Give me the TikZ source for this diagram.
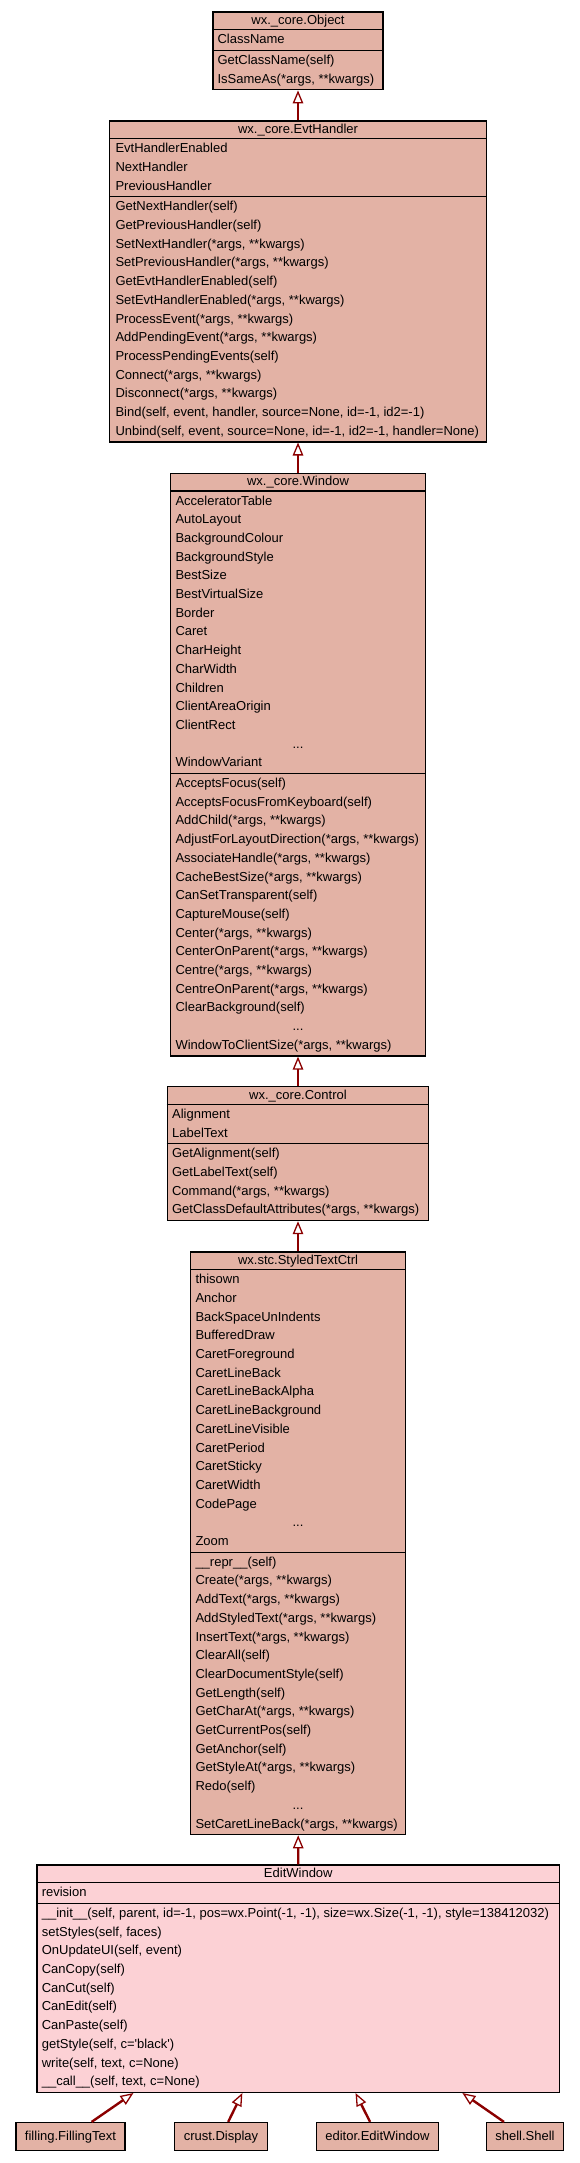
\documentclass[tikz,border=0pt]{standalone}
\usepackage{fontspec}
\setmainfont{Liberation Sans}
\usetikzlibrary{arrows.meta}
\definecolor{clsfill}{HTML}{E3B2A5}
\definecolor{mainfill}{HTML}{FCD1D5}
\definecolor{edgered}{HTML}{8B0000}

\begin{document}
\begin{tikzpicture}[x=1pt,y=-1pt,
    every node/.style={font=\fontsize{13}{15}\selectfont},
    cls/.style={draw=black, line width=1.2pt, fill=clsfill, inner sep=0pt},
    clstitle/.style={anchor=base, inner sep=0pt},
    clsrow/.style={anchor=base west, inner sep=0pt},
    clssep/.style={line width=1.2pt},
    leaf/.style={cls, inner xsep=9pt, minimum height=28, text height=9.5pt, text depth=2.5pt},
    derived/.style={draw=edgered, line width=2.4pt,
      -{Triangle[fill=white, length=13pt, width=10.5pt, line width=1.3pt]}}]
\path[use as bounding box, fill=white] (0,0) rectangle (579,2163);

% wx._core.Object
\node[cls, minimum width=170, minimum height=77.8] (object) at (298,50.9) {};
\node[clstitle] (object-t) at (298,24.5) {wx.\_core.Object};
\draw[clssep] (object.west |- 0,29.7) -- (object.east |- 0,29.7);
\draw[clssep] (object.west |- 0,50.4) -- (object.east |- 0,50.4);
\node[clsrow] (object-a0) at (217.3,43.7) {ClassName};
\foreach \s [count=\i from 0] in {GetClassName(self), {IsSameAs(*args, **kwargs)}}
  \node[clsrow] (object-m\i) at (217.3,64.4+18.7*\i) {\s};

% wx._core.EvtHandler
\node[cls, minimum width=376.6, minimum height=320.9] (evthandler) at (298,281.45) {};
\node[clstitle] (evthandler-t) at (298,133.5) {wx.\_core.EvtHandler};
\draw[clssep] (evthandler.west |- 0,138.7) -- (evthandler.east |- 0,138.7);
\draw[clssep] (evthandler.west |- 0,196.8) -- (evthandler.east |- 0,196.8);
\foreach \s [count=\i from 0] in {EvtHandlerEnabled, NextHandler, PreviousHandler}
  \node[clsrow] (evthandler-a\i) at (115.3,152.7+18.7*\i) {\s};
\foreach \s [count=\i from 0] in {GetNextHandler(self), GetPreviousHandler(self),
    {SetNextHandler(*args, **kwargs)}, {SetPreviousHandler(*args, **kwargs)},
    GetEvtHandlerEnabled(self), {SetEvtHandlerEnabled(*args, **kwargs)},
    {ProcessEvent(*args, **kwargs)}, {AddPendingEvent(*args, **kwargs)},
    ProcessPendingEvents(self), {Connect(*args, **kwargs)}, {Disconnect(*args, **kwargs)},
    {Bind(self, event, handler, source=None, id=-1, id2=-1)},
    {Unbind(self, event, source=None, id=-1, id2=-1, handler=None)}}
  \node[clsrow] (evthandler-m\i) at (115.3,210.8+18.7*\i) {\s};

% wx._core.Window
\node[cls, minimum width=254.6, minimum height=582.7] (window) at (298,764.65) {};
\node[clstitle] (window-t) at (298,485.8) {wx.\_core.Window};
\draw[clssep] (window.west |- 0,491) -- (window.east |- 0,491);
\draw[clssep] (window.west |- 0,773.5) -- (window.east |- 0,773.5);
\foreach \s [count=\i from 0] in {AcceleratorTable, AutoLayout, BackgroundColour,
    BackgroundStyle, BestSize, BestVirtualSize, Border, Caret, CharHeight, CharWidth,
    Children, ClientAreaOrigin, ClientRect}
  \node[clsrow] (window-a\i) at (175.3,505+18.7*\i) {\s};
\node[clstitle] (window-a13) at (298,505+18.7*13) {...};
\node[clsrow] (window-a14) at (175.3,505+18.7*14) {WindowVariant};
\foreach \s [count=\i from 0] in {AcceptsFocus(self), AcceptsFocusFromKeyboard(self),
    {AddChild(*args, **kwargs)}, {AdjustForLayoutDirection(*args, **kwargs)},
    {AssociateHandle(*args, **kwargs)}, {CacheBestSize(*args, **kwargs)},
    CanSetTransparent(self), CaptureMouse(self), {Center(*args, **kwargs)},
    {CenterOnParent(*args, **kwargs)}, {Centre(*args, **kwargs)},
    {CentreOnParent(*args, **kwargs)}, ClearBackground(self)}
  \node[clsrow] (window-m\i) at (175.3,787.5+18.7*\i) {\s};
\node[clstitle] (window-m13) at (298,787.5+18.7*13) {...};
\node[clsrow] (window-m14) at (175.3,787.5+18.7*14) {WindowToClientSize(*args, **kwargs)};

% wx._core.Control
\node[cls, minimum width=261.4, minimum height=133.9] (control) at (298,1153.65) {};
\node[clstitle] (control-t) at (298,1099.2) {wx.\_core.Control};
\draw[clssep] (control.west |- 0,1104.4) -- (control.east |- 0,1104.4);
\draw[clssep] (control.west |- 0,1143.8) -- (control.east |- 0,1143.8);
\foreach \s [count=\i from 0] in {Alignment, LabelText}
  \node[clsrow] (control-a\i) at (171.9,1118.4+18.7*\i) {\s};
\foreach \s [count=\i from 0] in {GetAlignment(self), GetLabelText(self),
    {Command(*args, **kwargs)}, {GetClassDefaultAttributes(*args, **kwargs)}}
  \node[clsrow] (control-m\i) at (171.9,1157.8+18.7*\i) {\s};

% wx.stc.StyledTextCtrl
\node[cls, minimum width=214.6, minimum height=582.7] (styledtext) at (298,1543.35) {};
\node[clstitle] (styledtext-t) at (298,1264.5) {wx.stc.StyledTextCtrl};
\draw[clssep] (styledtext.west |- 0,1269.7) -- (styledtext.east |- 0,1269.7);
\draw[clssep] (styledtext.west |- 0,1552.2) -- (styledtext.east |- 0,1552.2);
\foreach \s [count=\i from 0] in {thisown, Anchor, BackSpaceUnIndents, BufferedDraw,
    CaretForeground, CaretLineBack, CaretLineBackAlpha, CaretLineBackground,
    CaretLineVisible, CaretPeriod, CaretSticky, CaretWidth, CodePage}
  \node[clsrow] (styledtext-a\i) at (195.3,1283.7+18.7*\i) {\s};
\node[clstitle] (styledtext-a13) at (298,1283.7+18.7*13) {...};
\node[clsrow] (styledtext-a14) at (195.3,1283.7+18.7*14) {Zoom};
\foreach \s [count=\i from 0] in {\_\_repr\_\_(self), {Create(*args, **kwargs)},
    {AddText(*args, **kwargs)}, {AddStyledText(*args, **kwargs)},
    {InsertText(*args, **kwargs)}, ClearAll(self), ClearDocumentStyle(self),
    GetLength(self), {GetCharAt(*args, **kwargs)}, GetCurrentPos(self),
    GetAnchor(self), {GetStyleAt(*args, **kwargs)}, Redo(self)}
  \node[clsrow] (styledtext-m\i) at (195.3,1566.2+18.7*\i) {\s};
\node[clstitle] (styledtext-m13) at (298,1566.2+18.7*13) {...};
\node[clsrow] (styledtext-m14) at (195.3,1566.2+18.7*14) {SetCaretLineBack(*args, **kwargs)};

% EditWindow
\node[cls, fill=mainfill, minimum width=522.7, minimum height=227.4] (editwindow) at (298.3,1978.7) {};
\node[clstitle] (editwindow-t) at (298.3,1877.5) {EditWindow};
\draw[clssep] (editwindow.west |- 0,1882.7) -- (editwindow.east |- 0,1882.7);
\draw[clssep] (editwindow.west |- 0,1903.4) -- (editwindow.east |- 0,1903.4);
\node[clsrow] (editwindow-a0) at (41.6,1896.7) {revision};
\foreach \s [count=\i from 0] in {%
    {\_\_init\_\_(self, parent, id=-1, pos=wx.Point(-1, -1), size=wx.Size(-1, -1), style=138412032)},
    {setStyles(self, faces)}, {OnUpdateUI(self, event)}, CanCopy(self), CanCut(self),
    CanEdit(self), CanPaste(self), {getStyle(self, c=\textquotesingle black\textquotesingle)},
    {write(self, text, c=None)}, {\_\_call\_\_(self, text, c=None)}}
  \node[clsrow] (editwindow-m\i) at (41.6,1917.4+18.7*\i) {\s};

% subclasses
\node[leaf] (filling) at (70.5,2136.5) {filling.FillingText};
\node[leaf] (crust) at (221,2136.5) {crust.Display};
\node[leaf] (editor) at (377.4,2136.5) {editor.EditWindow};
\node[leaf] (shell) at (525,2136.5) {shell.Shell};

\draw[derived] (evthandler) -- (object);
\draw[derived] (window) -- (evthandler);
\draw[derived] (control) -- (window);
\draw[derived] (styledtext) -- (control);
\draw[derived] (editwindow) -- (styledtext);
\draw[derived] (filling) -- (editwindow);
\draw[derived] (crust) -- (editwindow);
\draw[derived] (editor) -- (editwindow);
\draw[derived] (shell) -- (editwindow);
\end{tikzpicture}
\end{document}
